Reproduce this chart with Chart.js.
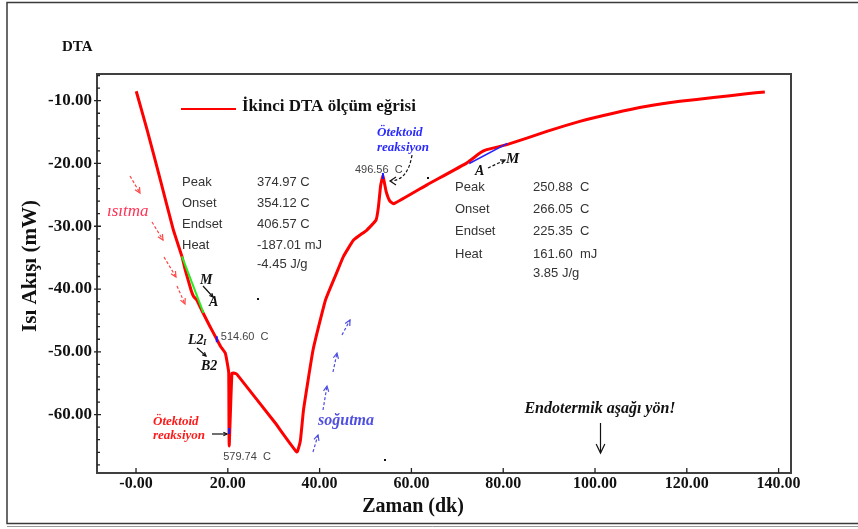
<!DOCTYPE html>
<html>
<head>
<meta charset="utf-8">
<script src="https://cdn.jsdelivr.net/npm/chart.js@4.4.1/dist/chart.umd.min.js"></script>
<style>
  html, body { margin: 0; padding: 0; background: #ffffff; }
  #wrap { width: 858px; height: 529px; }
</style>
</head>
<body>
<div id="wrap"><canvas id="dta" width="858" height="529"></canvas></div>
<script>
// Second DTA run: time (min) against heat flow (mW)
const timeMin = [0.05, 2.4, 5.3, 8.1, 10.0, 10.7, 12.0, 12.55, 13.2, 14.4, 16.0, 17.6, 18.4, 19.45, 20.0, 20.2,
  20.3, 20.9, 21.5, 22.0, 30.3, 35.05, 35.8, 36.5, 38.6, 41.3, 44.0, 45.2, 47.4, 50.3, 52.3, 52.8, 53.3, 53.8,
  54.5, 55.3, 56.2, 63.4, 72.1, 75.0, 76.4, 80.8, 89.5, 96.7, 104.0, 111.3, 118.5, 125.8, 133.0, 137.0];
const heatFlow = [-8.5, -14.6, -22.6, -30.5, -34.8, -36.9, -40.2, -41.2, -41.7, -43.5, -45.8, -48.0, -49.1, -50.2, -52.3, -53.4,
  -65.0, -53.4, -53.4, -53.6, -61.3, -65.95, -64.2, -59.2, -49.6, -41.7, -36.9, -34.8, -32.2, -30.6, -29.0, -27.0, -23.5, -22.0,
  -24.5, -26.0, -26.4, -23.4, -19.9, -18.3, -17.8, -17.0, -14.9, -13.3, -12.0, -10.9, -10.1, -9.5, -8.9, -8.6];

// Baseline construction for the two peaks
const heatingBaseX = [10.0, 14.7];
const heatingBaseY = [-34.8, -43.8];
const coolingBaseX = [72.6, 80.9];
const coolingBaseY = [-20.0, -16.8];

// Marked peak points (time, heat flow, temperature label)
const peakX = [17.6, 20.3, 53.8];
const peakY = [-48.0, -62.6, -22.0];
const peakLabels = ['514.60  C', '579.74  C', '496.56  C'];

// Evaluation tables
const heatingRows = ['Peak', 'Onset', 'Endset', 'Heat', ''];
const heatingVals = ['374.97 C', '354.12 C', '406.57 C', '-187.01 mJ', '-4.45 J/g'];
const coolingRows = ['Peak', 'Onset', 'Endset', 'Heat', ''];
const coolingVals = ['250.88  C', '266.05  C', '225.35  C', '161.60  mJ', '3.85 J/g'];

// Axes
const xTickValues = [0, 20, 40, 60, 80, 100, 120, 140];
const xTickLabels = ['-0.00', '20.00', '40.00', '60.00', '80.00', '100.00', '120.00', '140.00'];
const yTickValues = [-10, -20, -30, -40, -50, -60];
const yTickLabels = ['-10.00', '-20.00', '-30.00', '-40.00', '-50.00', '-60.00'];
const yMinorValues = [-68, -66, -64, -62, -58, -56, -54, -52, -48, -46, -44, -42, -38, -36, -34, -32,
  -28, -26, -24, -22, -18, -16, -14, -12, -8, -6];

const seriesName = 'İkinci DTA ölçüm eğrisi';

const pts = (xs, ys) => xs.map((x, i) => ({ x: x, y: ys[i] }));

const SERIF = '"Liberation Serif", "Times New Roman", serif';
const SANS = '"Liberation Sans", Arial, sans-serif';

function arrow(ctx, x1, y1, x2, y2, color, dashed, head) {
  ctx.save();
  ctx.strokeStyle = color;
  ctx.lineWidth = 1.2;
  if (dashed) ctx.setLineDash([3, 2]);
  ctx.beginPath();
  ctx.moveTo(x1, y1);
  ctx.lineTo(x2, y2);
  ctx.stroke();
  ctx.setLineDash([]);
  const a = Math.atan2(y2 - y1, x2 - x1);
  const h = head || 6;
  ctx.beginPath();
  ctx.moveTo(x2 - h * Math.cos(a - 0.45), y2 - h * Math.sin(a - 0.45));
  ctx.lineTo(x2, y2);
  ctx.lineTo(x2 - h * Math.cos(a + 0.45), y2 - h * Math.sin(a + 0.45));
  ctx.stroke();
  ctx.restore();
}

function text(ctx, str, x, y, font, color, align) {
  ctx.save();
  ctx.font = font;
  ctx.fillStyle = color;
  ctx.textAlign = align || 'left';
  ctx.textBaseline = 'middle';
  ctx.fillText(str, x, y);
  ctx.restore();
}

const decor = {
  id: 'decor',
  afterDraw(chart) {
    const ctx = chart.ctx;
    const ca = chart.chartArea;
    const xs = chart.scales.x, ys = chart.scales.y;

    // outer frame
    ctx.save();
    ctx.strokeStyle = '#3a3a3a';
    ctx.lineWidth = 1.5;
    ctx.beginPath();
    ctx.moveTo(858, 2.5); ctx.lineTo(7, 2.5); ctx.lineTo(7, 523.5); ctx.lineTo(858, 523.5);
    ctx.stroke();
    ctx.strokeStyle = '#9a9a9a';
    ctx.lineWidth = 1;
    ctx.beginPath(); ctx.moveTo(7, 526.5); ctx.lineTo(858, 526.5); ctx.stroke();

    // plot border
    ctx.strokeStyle = '#404040';
    ctx.lineWidth = 2;
    ctx.strokeRect(ca.left, ca.top, ca.right - ca.left, ca.bottom - ca.top);

    // tick marks
    ctx.strokeStyle = '#222';
    ctx.lineWidth = 1.3;
    ctx.beginPath();
    yTickValues.forEach(v => { const p = ys.getPixelForValue(v); ctx.moveTo(ca.left - 3, p); ctx.lineTo(ca.left + 4, p); });
    yMinorValues.forEach(v => { const p = ys.getPixelForValue(v); ctx.moveTo(ca.left, p); ctx.lineTo(ca.left + 3, p); });
    xTickValues.forEach(v => { const p = xs.getPixelForValue(v); ctx.moveTo(p, ca.bottom); ctx.lineTo(p, ca.bottom - 5); });
    ctx.stroke();
    ctx.restore();

    // titles
    text(ctx, 'DTA', 62, 47, 'bold 15px ' + SERIF, '#111');
    text(ctx, 'Zaman (dk)', 413, 507, 'bold 20px ' + SERIF, '#111', 'center');
    ctx.save();
    ctx.translate(31, 266);
    ctx.rotate(-Math.PI / 2);
    text(ctx, 'Isı Akışı (mW)', 0, 0, 'bold 21px ' + SERIF, '#111', 'center');
    ctx.restore();

    // legend
    ctx.save();
    ctx.strokeStyle = '#ff0000';
    ctx.lineWidth = 2;
    ctx.beginPath(); ctx.moveTo(181, 109); ctx.lineTo(236, 109); ctx.stroke();
    ctx.restore();
    text(ctx, seriesName, 242, 107, 'bold 17px ' + SERIF, '#111');

    // evaluation tables
    const sf = '13px ' + SANS;
    heatingRows.forEach((r, i) => {
      const y = [182, 203, 224, 245, 264][i];
      if (r) text(ctx, r, 182, y, sf, '#333');
      text(ctx, heatingVals[i], 257, y, sf, '#333');
    });
    coolingRows.forEach((r, i) => {
      const y = [187, 209, 231, 254, 273][i];
      if (r) text(ctx, r, 455, y, sf, '#333');
      text(ctx, coolingVals[i], 533, y, sf, '#333');
    });

    // peak temperature labels
    const lf = '11px ' + SANS;
    text(ctx, peakLabels[0], xs.getPixelForValue(peakX[0]) + 4, 337, lf, '#444');
    text(ctx, peakLabels[1], xs.getPixelForValue(peakX[1]) - 6, 457, lf, '#444');
    text(ctx, peakLabels[2], xs.getPixelForValue(peakX[2]) - 28, 170, lf, '#444');

    // reaction labels
    const rf = 'italic bold 13px ' + SERIF;
    text(ctx, 'Ötektoid', 377, 133, rf, '#2b2bff');
    text(ctx, 'reaksiyon', 377, 148, rf, '#2b2bff');
    text(ctx, 'Ötektoid', 153, 422, rf, '#ff1a1a');
    text(ctx, 'reaksiyon', 153, 436, rf, '#ff1a1a');
    arrow(ctx, 212, 434, 227, 434, '#111', false, 4);

    // curved pointer to the cooling peak
    ctx.save();
    ctx.strokeStyle = '#111';
    ctx.lineWidth = 1.2;
    ctx.setLineDash([3, 2]);
    ctx.beginPath();
    ctx.moveTo(412, 155);
    ctx.quadraticCurveTo(408, 180, 391, 181);
    ctx.stroke();
    ctx.setLineDash([]);
    ctx.beginPath();
    ctx.moveTo(396, 177); ctx.lineTo(390, 181); ctx.lineTo(396, 185);
    ctx.stroke();
    ctx.restore();

    // phase labels
    const pf = 'italic bold 14px ' + SERIF;
    text(ctx, 'M', 200, 280, pf, '#111');
    text(ctx, 'A', 209, 302, pf, '#111');
    arrow(ctx, 203, 286, 213, 297, '#111', false, 4);
    text(ctx, 'L2', 188, 340, pf, '#111');
    text(ctx, 'I', 203, 343, 'italic bold 9px ' + SERIF, '#111');
    text(ctx, 'B2', 201, 366, pf, '#111');
    arrow(ctx, 197, 348, 206, 356, '#111', false, 4);
    text(ctx, 'A', 475, 171, pf, '#111');
    text(ctx, 'M', 506, 159, 'italic bold 15px ' + SERIF, '#111');
    arrow(ctx, 488, 168, 505, 160, '#111', true, 5);

    // heating / cooling direction
    text(ctx, 'ısıtma', 107, 212, 'italic 17px ' + SERIF, '#ff3355');
    [[130, 176, 140, 193], [152, 222, 163, 240], [164, 257, 176, 277], [177, 286, 185, 304]].forEach(a =>
      arrow(ctx, a[0], a[1], a[2], a[3], '#ff4444', true, 6));
    text(ctx, 'soğutma', 318, 421, 'italic bold 16px ' + SERIF, '#5050e0');
    [[313, 452, 318, 435], [323, 410, 327, 386], [333, 372, 337, 353], [342, 335, 350, 320]].forEach(a =>
      arrow(ctx, a[0], a[1], a[2], a[3], '#4c4ce0', true, 6));

    // endothermic direction
    text(ctx, 'Endotermik aşağı yön!', 600, 409, 'italic bold 16px ' + SERIF, '#111', 'center');
    arrow(ctx, 600.5, 423, 600.5, 453, '#111', false, 10);

    // stray dots
    ctx.save();
    ctx.fillStyle = '#111';
    [[257, 298], [427, 177], [384, 459]].forEach(d => ctx.fillRect(d[0], d[1], 2, 2));
    ctx.restore();
  }
};

new Chart(document.getElementById('dta'), {
  type: 'line',
  data: {
    datasets: [
      { label: seriesName, data: pts(timeMin, heatFlow), borderColor: '#ff0000', borderWidth: 3,
        pointRadius: 0, tension: 0.12, order: 3 },
      { label: 'heating baseline', data: pts(heatingBaseX, heatingBaseY), borderColor: '#22ee22', borderWidth: 2,
        pointRadius: 0, order: 1 },
      { label: 'cooling baseline', data: pts(coolingBaseX, coolingBaseY), borderColor: '#2222ff', borderWidth: 1.5,
        pointRadius: 0, order: 1 },
      { label: 'peaks', data: pts(peakX, peakY), showLine: false, pointStyle: 'line', rotation: 90,
        pointRadius: 3, borderColor: '#1a1aff', borderWidth: 2, order: 0 }
    ]
  },
  options: {
    responsive: false,
    animation: false,
    devicePixelRatio: 1,
    layout: { padding: { top: 74, right: 67, bottom: 0, left: 0 } },
    plugins: { legend: { display: false }, tooltip: { enabled: false } },
    scales: {
      x: {
        type: 'linear', min: -8.5, max: 142.7,
        afterBuildTicks: s => { s.ticks = xTickValues.map(v => ({ value: v })); },
        afterFit: s => { s.height = 56; },
        grid: { display: false, drawTicks: false },
        border: { display: false },
        ticks: { padding: 1, color: '#111', font: { family: SERIF, size: 16, weight: 'bold' },
          maxRotation: 0, autoSkip: false, callback: (v, i) => xTickLabels[i] }
      },
      y: {
        type: 'linear', min: -69.3, max: -5.75,
        afterBuildTicks: s => { s.ticks = yTickValues.map(v => ({ value: v })); },
        afterFit: s => { s.width = 97; },
        grid: { display: false, drawTicks: false },
        border: { display: false },
        ticks: { padding: 5, color: '#111', font: { family: SERIF, size: 17, weight: 'bold' },
          autoSkip: false, callback: (v, i) => yTickLabels[i] }
      }
    }
  },
  plugins: [decor]
});
</script>
</body>
</html>
